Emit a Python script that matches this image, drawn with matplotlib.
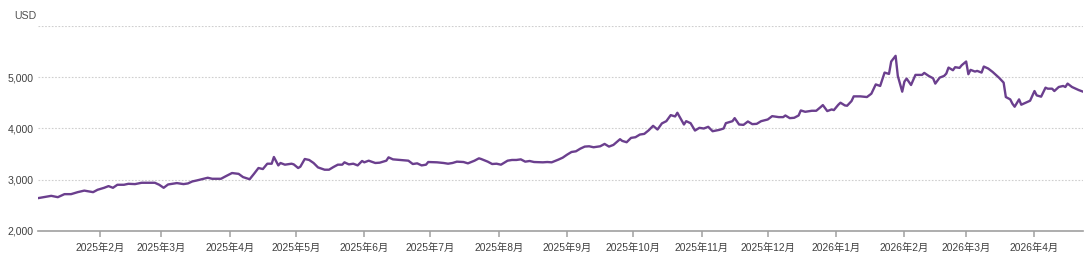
import matplotlib
matplotlib.use("Agg")
import matplotlib.pyplot as plt
import matplotlib.dates as mdates
import matplotlib.ticker as mticker
import pandas as pd

plt.rcParams['font.family'] = ['Liberation Sans', 'Noto Sans CJK SC']

# ---- data -------------------------------------------------------------
start_date = "2025-01-01"
days_since_start = [
    3, 9, 12, 15, 18, 21, 24, 28, 30, 33, 35, 37, 39, 42, 44, 47, 50, 56, 58, 60,
    62, 66, 69, 71, 73, 75, 78, 80, 82, 86, 88, 91, 94, 96, 99, 101, 103, 105, 107, 109,
    110, 112, 113, 115, 118, 119, 121, 122, 124, 126, 128, 130, 133, 135, 137, 139, 141, 142, 144, 146,
    148, 150, 151, 153, 156, 158, 161, 162, 164, 167, 170, 171, 173, 175, 177, 179, 180, 184, 187, 189,
    191, 193, 196, 198, 201, 203, 204, 207, 209, 211, 213, 216, 218, 220, 222, 224, 226, 228, 232, 234,
    236, 239, 241, 243, 245, 247, 249, 251, 253, 255, 258, 260, 262, 264, 267, 268, 270, 272, 274, 276,
    278, 280, 282, 284, 286, 288, 290, 292, 293, 296, 297, 299, 301, 303, 305, 307, 309, 312, 314, 315,
    318, 319, 321, 323, 325, 327, 329, 331, 334, 336, 339, 341, 342, 344, 346, 348, 349, 351, 354, 356,
    358, 359, 361, 363, 364, 366, 367, 369, 370, 372, 373, 376, 379, 381, 383, 385, 387, 389, 390, 392,
    393, 395, 396, 397, 399, 401, 404, 405, 407, 409, 410, 412, 414, 415, 416, 418, 419, 421, 422, 424,
    425, 426, 428, 429, 431, 432, 434, 436, 438, 439, 441, 442, 444, 445, 446, 448, 449, 451, 453, 455,
    456, 458, 460, 461, 463, 464, 466, 468, 469, 470, 472, 475, 477,
]
price_usd = [
    2641, 2686, 2660, 2719, 2719, 2758, 2788, 2758, 2804, 2843, 2876, 2843, 2902, 2902, 2921, 2915, 2941, 2941, 2902, 2843,
    2908, 2935, 2915, 2928, 2967, 2986, 3019, 3039, 3019, 3019, 3065, 3131, 3115, 3052, 3010, 3117, 3229, 3209, 3313, 3313,
    3444, 3280, 3327, 3294, 3313, 3300, 3229, 3255, 3405, 3386, 3327, 3241, 3196, 3196, 3248, 3294, 3294, 3340, 3300, 3313,
    3280, 3366, 3340, 3372, 3327, 3333, 3372, 3437, 3398, 3386, 3372, 3372, 3307, 3320, 3280, 3294, 3346, 3340, 3327, 3313,
    3327, 3353, 3346, 3320, 3372, 3418, 3405, 3353, 3307, 3313, 3294, 3372, 3386, 3386, 3398, 3353, 3366, 3346, 3340, 3346,
    3340, 3392, 3431, 3490, 3542, 3555, 3607, 3647, 3653, 3634, 3653, 3699, 3647, 3680, 3791, 3758, 3732, 3817, 3830, 3882,
    3895, 3965, 4052, 3980, 4100, 4143, 4261, 4235, 4307, 4078, 4143, 4104, 3960, 4013, 4000, 4033, 3947, 3973, 4000, 4104,
    4143, 4202, 4078, 4071, 4137, 4085, 4091, 4143, 4176, 4241, 4222, 4222, 4254, 4202, 4209, 4254, 4352, 4326, 4346, 4346,
    4418, 4457, 4340, 4372, 4359, 4463, 4503, 4450, 4444, 4535, 4627, 4627, 4614, 4679, 4860, 4830, 5091, 5065, 5307, 5418,
    5026, 4719, 4915, 4974, 4849, 5046, 5046, 5085, 5026, 4980, 4876, 4993, 5026, 5072, 5189, 5137, 5196, 5183, 5235, 5307,
    5059, 5144, 5111, 5124, 5091, 5209, 5170, 5104, 5026, 4987, 4895, 4614, 4568, 4483, 4425, 4568, 4464, 4503, 4542, 4731,
    4646, 4621, 4797, 4777, 4777, 4731, 4810, 4830, 4810, 4876, 4810, 4751, 4719,
]
y_ticks = [2000, 3000, 4000, 5000, 6000]
unit_label = "USD"

dates = pd.Timestamp(start_date) + pd.to_timedelta(days_since_start, unit="D")

# ---- figure -----------------------------------------------------------
W, H = 1087, 264
fig = plt.figure(figsize=(W / 100, H / 100), dpi=100)
ax = fig.add_axes([38 / W, 33 / H, (1083 - 38) / W, (231 - 26) / H])

ax.plot(dates, price_usd, color="#6b3f8e", lw=1.7, solid_joinstyle="round")

ax.set_xlim(dates[0], dates[-1])
ax.set_ylim(y_ticks[0], y_ticks[-1])
ax.set_yticks(y_ticks)
ax.yaxis.set_major_formatter(
    mticker.FuncFormatter(lambda v, p: "" if v >= y_ticks[-1] else f"{int(v):,}"))

ax.xaxis.set_major_locator(mdates.MonthLocator())
ax.xaxis.set_major_formatter(
    mticker.FuncFormatter(lambda v, p: f"{mdates.num2date(v).year}年{mdates.num2date(v).month}月"))

ax.grid(axis="y", linestyle=(0, (1.5, 1.5)), color="#cfcfcf", lw=0.8)
ax.set_axisbelow(True)
for s in ("top", "right", "left"):
    ax.spines[s].set_visible(False)
ax.spines["bottom"].set_color("#a0a0a0")
ax.spines["bottom"].set_linewidth(1.2)

ax.tick_params(axis="y", length=0, pad=3, labelsize=7.6, labelcolor="#404040")
ax.tick_params(axis="x", length=4.5, width=1.1, color="#a0a0a0", pad=4,
               labelsize=7.4, labelcolor="#404040")

fig.text(14 / W, 1 - 16 / H, unit_label, fontsize=7.6, color="#505050",
         ha="left", va="center")

fig.savefig("out.png", dpi=100)
